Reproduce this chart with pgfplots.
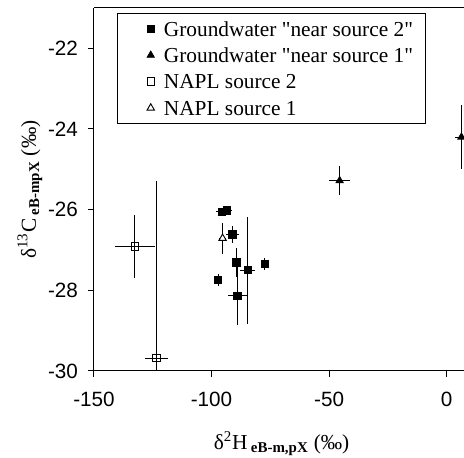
\documentclass[border=0pt]{standalone}
\usepackage{fontspec}
\setmainfont{Liberation Serif}
\newfontfamily\tickfont{Liberation Sans}
\usepackage{pgfplots}
\pgfplotsset{compat=1.18}
\pgfplotsset{myleg/.style={legend image code/.code={\path[draw=none] (-17pt,0pt) -- (7.9pt,0pt);\draw[##1] plot coordinates {(0pt,0pt)};}}}
\begin{document}
\begin{tikzpicture}
\begin{axis}[
  scale only axis,
  width=277.5pt, height=272.25pt,
  xmin=-150, xmax=7.4, ymin=-30, ymax=-21,
  axis x line=bottom, axis y line=left,
  axis line style={-, line width=0.75pt, black},
  tick align=outside,
  major tick length=4.5pt,
  tick style={black, line width=0.75pt},
  xtick={-150,-100,-50,0}, xticklabels={-150,-100,-50,0},
  ytick={-30,-28,-26,-24,-22}, yticklabels={-30,-28,-26,-24,-22},
  ticklabel style={font=\tickfont\fontsize{15.5}{18}\selectfont},
  xticklabel style={yshift=-8pt},
  yticklabel style={xshift=-4pt},
  xlabel={δ\textsuperscript{2}H\,\textsubscript{\textbf{eB-m,pX}} (‰)},
  ylabel={δ\textsuperscript{13}C\,\textsubscript{\textbf{eB-mpX}} (‰)},
  label style={font=\fontsize{16}{19}\selectfont},
  xlabel style={at={(axis description cs:0.507,-0.2)}, anchor=center},
  ylabel style={at={(axis description cs:-0.173,0.5)}, anchor=center},
  legend style={at={(0.063,0.986)}, anchor=north west, draw=black, line width=0.75pt,
    font=\fontsize{16}{19}\selectfont, inner xsep=7.7pt, inner ysep=1.5pt,
    row sep=0pt, nodes={inner ysep=4.4pt, text height=11pt, text depth=0pt}},
  legend cell align=left,
  error bars/y dir=both, error bars/y explicit,
  error bars/x dir=both, error bars/x explicit,
  error bars/error mark=none,
  error bars/error bar style={line width=0.8pt, black},
]
\coordinate (bl) at (rel axis cs:0,0);
\coordinate (tr) at (rel axis cs:1,1);
\coordinate (tl) at (rel axis cs:0,1);
% Groundwater near source 2
\addplot[only marks, myleg, mark=square*, mark size=2.75pt, mark options={fill=black, draw=black, line width=0.5pt}]
  table[x=x, y=y, x error=ex, y error=ey] {
x y ex ey
-95.7 -26.05 2.4 0.08
-93.6 -26.02 2.4 0.08
-91.2 -26.61 2.7 0.21
-89.4 -27.31 1.0 0.36
-84.6 -27.50 3.2 1.33
-89.0 -28.13 4.2 0.73
-77.3 -27.35 0.8 0.15
-97.2 -27.74 1.2 0.15
};
\addlegendentry{Groundwater \textquotedbl near source 2\textquotedbl}
% Groundwater near source 1
\addplot[only marks, myleg, mark=triangle*, mark size=3.2pt, mark options={fill=black, draw=black, line width=0.5pt}]
  table[x=x, y=y, x error=ex, y error=ey] {
x y ex ey
-45.5 -25.28 4.5 0.36
6.3 -24.20 2.8 0.80
};
\addlegendentry{Groundwater \textquotedbl near source 1\textquotedbl}
% NAPL source 2
\addplot[only marks, myleg, mark=square, mark size=2.75pt, mark options={fill=white, draw=black, line width=0.7pt}]
  table[x=x, y=y, x error=ex, y error=ey] {
x y ex ey
-132.6 -26.91 8.5 0.79
-123.4 -29.68 4.8 4.38
};
\addlegendentry{NAPL source 2}
% NAPL source 1
\addplot[only marks, myleg, mark=triangle*, mark size=3.2pt, mark options={fill=white, draw=black, line width=0.7pt}]
  table[x=x, y=y, x error=ex, y error=ey] {
x y ex ey
-95.3 -26.71 1.5 0.38
};
\addlegendentry{NAPL source 1}
\end{axis}
\draw[line width=0.75pt, black] (tl) -- (tr);
\pgfresetboundingbox
\path ([shift={(-70.5pt,-65.25pt)}]bl) rectangle ([shift={(0pt,6pt)}]tr);
\end{tikzpicture}
\end{document}
